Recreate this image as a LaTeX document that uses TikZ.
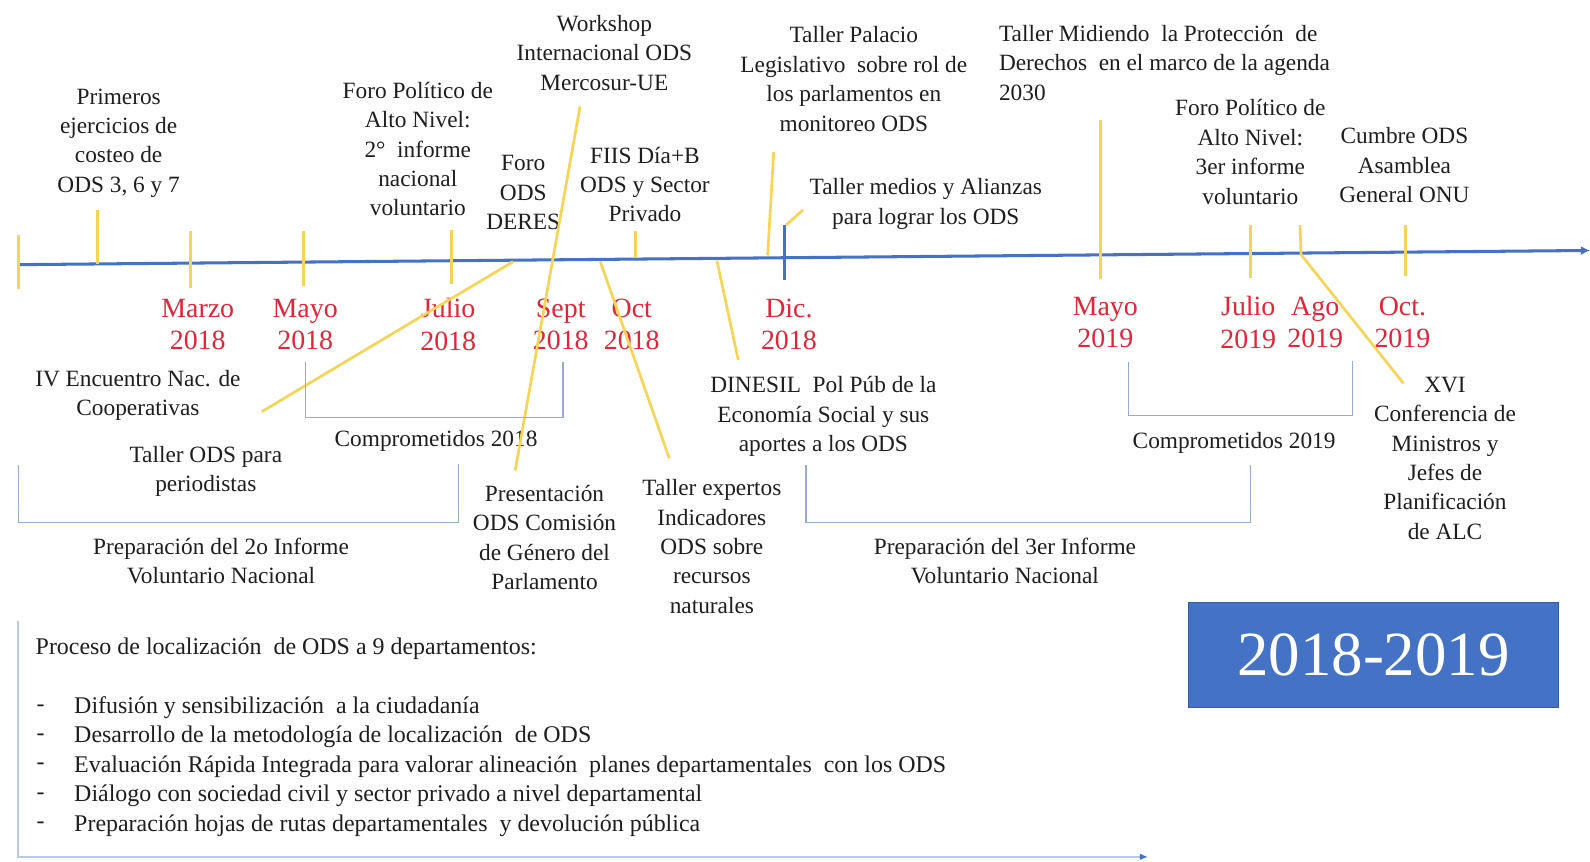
\documentclass[tikz,border=0pt]{standalone}
\usepackage{fontspec}
\setmainfont{Liberation Serif}
\usetikzlibrary{arrows.meta}
\definecolor{tlblue}{RGB}{68,114,196}
\definecolor{tyel}{RGB}{248,212,84}
\definecolor{mred}{RGB}{224,38,56}
\definecolor{brkc}{RGB}{150,172,215}
\definecolor{framec}{RGB}{185,202,232}
\definecolor{txt}{RGB}{30,30,30}
\tikzset{
 lbl/.style={align=center, font=\fontsize{23}{29}\selectfont, text=txt, inner sep=0pt},
 mon/.style={align=center, font=\fontsize{27.5}{32}\selectfont, text=mred, inner sep=0pt},
 bul/.style={anchor=west, font=\fontsize{23.6}{29}\selectfont, text=txt, inner sep=0pt},
 ytick/.style={draw=tyel, line width=2.6pt},
 brkline/.style={draw=brkc, line width=1.4pt},
}
\begin{document}
\begin{tikzpicture}[x=1pt,y=-1pt]
\useasboundingbox[fill=white] (0,0) rectangle (1568,850);

% ---------- upper labels ----------
\node[lbl] (prim) at (117,141) {Primeros\\ejercicios de\\costeo de\\ODS 3, 6 y 7};
\node[lbl] (foro1) at (412,147) {Foro Político de\\Alto Nivel:\\2°\ \ informe\\nacional\\voluntario};
\node[lbl] (deres) at (516,190) {Foro\\ODS\\DERES};
\node[lbl] (work) at (596,52) {Workshop\\Internacional ODS\\Mercosur-UE};
\node[lbl] (fiis) at (636,182) {FIIS Día+B\\ODS y Sector\\Privado};
\node[lbl] (palacio) at (842,78) {Taller Palacio\\Legislativo\ \ sobre rol de\\los parlamentos en\\monitoreo ODS};
\node[lbl] (medios) at (913,201) {Taller medios y Alianzas\\para lograr los ODS};
\node[lbl, align=left, anchor=west] (midiendo) at (985,62) {Taller Midiendo\ \ la Protección\ \ de\\Derechos\ \ en el marco de la agenda\\2030};
\node[lbl] (foro2) at (1233,150) {Foro Político de\\Alto Nivel:\\3er informe\\voluntario};
\node[lbl] (cumbre) at (1385,163) {Cumbre ODS\\Asamblea\\General ONU};

% ---------- lower labels ----------
\node[lbl] (ivenc) at (136,390) {IV Encuentro Nac. de\\Cooperativas};
\node[lbl] (period) at (203,465) {Taller ODS para\\periodistas};
\node[lbl] (comp18) at (430,435) {Comprometidos 2018};
\node[lbl] (prep2) at (218,553) {Preparación del 2o Informe\\Voluntario Nacional};
\node[lbl] (present) at (537,530) {Presentación\\ODS Comisión\\de Género del\\Parlamento};
\node[lbl] (expertos) at (702,539) {Taller expertos\\Indicadores\\ODS sobre\\recursos\\naturales};
\node[lbl] (dinesil) at (812,411) {DINESIL\ \ Pol Púb de la\\Economía Social y sus\\aportes a los ODS};
\node[lbl] (prep3) at (991,553) {Preparación del 3er Informe\\Voluntario Nacional};
\node[lbl] (comp19) at (1217,437) {Comprometidos 2019};
\node[lbl] (xvi) at (1425,452) {XVI\\Conferencia de\\Ministros y\\Jefes de\\Planificación\\de ALC};

% ---------- months ----------
\node[mon] (m1) at (195,320) {Marzo\\2018};
\node[mon] (m2) at (301,320) {Mayo\\2018};
\node[mon] (m3) at (442,320) {Julio\\2018};
\node[mon] (m4) at (553,320) {Sept\\2018};
\node[mon] (m5) at (623,320) {Oct\\2018};
\node[mon] (m6) at (778,320) {Dic.\\2018};
\node[mon] (m7) at (1090,318) {Mayo\\2019};
\node[mon] (m8) at (1231,318) {Julio\\2019};
\node[mon] (m9) at (1297,318) {Ago\\2019};
\node[mon] (m10) at (1383,318) {Oct.\\2019};

% ---------- timeline ----------
\coordinate (tl0) at (18,261);
\coordinate (tl1) at (1568,247);
\draw[tlblue, line width=3pt, -{Latex[length=9pt,width=9pt]}] (tl0) -- (tl1);

% ---------- yellow ticks / leaders ----------
\coordinate (a1) at (18,232);   \coordinate (b1) at (18,285);
\coordinate (a2) at (96,207);   \coordinate (b2) at (96,260);
\coordinate (a3) at (188,228);  \coordinate (b3) at (188,284);
\coordinate (a4) at (299,228);  \coordinate (b4) at (299,282);
\coordinate (a5) at (445,227);  \coordinate (b5) at (445,280);
\coordinate (a6) at (506,258);  \coordinate (b6) at (258,406);
\coordinate (a7) at (572,105);  \coordinate (b7) at (508,464);
\coordinate (a8) at (627,228);  \coordinate (b8) at (627,253);
\coordinate (a9) at (592,258);  \coordinate (b9) at (660,452);
\coordinate (a10) at (707,257); \coordinate (b10) at (728,355);
\coordinate (a11) at (763,150); \coordinate (b11) at (757,252);
\coordinate (a12) at (775,222); \coordinate (b12) at (792,207);
\coordinate (a13) at (1085,118); \coordinate (b13) at (1085,275);
\coordinate (a14) at (1233,222); \coordinate (b14) at (1233,274);
\coordinate (a15) at (1282,222); \coordinate (c15) at (1283,251); \coordinate (b15) at (1384,378);
\coordinate (a16) at (1386,222); \coordinate (b16) at (1386,272);
\foreach \i in {1,...,14,16} {\draw[ytick] (a\i) -- (b\i);}
\draw[ytick] (a15) -- (c15) -- (b15);

% blue tick at Dic.
\coordinate (dt0) at (774,222); \coordinate (dt1) at (774,276);
\draw[tlblue, line width=3pt] (dt0) -- (dt1);

% ---------- brackets ----------
\coordinate (k1a) at (301,357); \coordinate (k1b) at (301,412); \coordinate (k1c) at (555,412); \coordinate (k1d) at (555,357);
\coordinate (k2a) at (18,459);  \coordinate (k2b) at (18,515);  \coordinate (k2c) at (452,515); \coordinate (k2d) at (452,458);
\coordinate (k3a) at (795,459); \coordinate (k3b) at (795,515); \coordinate (k3c) at (1233,515); \coordinate (k3d) at (1233,459);
\coordinate (k4a) at (1113,357); \coordinate (k4b) at (1113,410); \coordinate (k4c) at (1334,410); \coordinate (k4d) at (1334,356);
\foreach \i in {1,2,3,4} {\draw[brkline] (k\i a) -- (k\i b) -- (k\i c) -- (k\i d);}

% ---------- bottom process frame ----------
\coordinate (f0) at (18,612); \coordinate (f1) at (18,845); \coordinate (f2) at (1132,845);
\draw[draw=framec, line width=2pt, -{Latex[length=8pt,width=7pt,color=tlblue]}] (f0) -- (f1) -- (f2);
\node[bul] (proc) at (35,640) {Proceso de localización\ \ de ODS a 9 departamentos:};
\foreach \y/\t [count=\k] in {698/{Difusión y sensibilización\ \ a la ciudadanía},
  727/{Desarrollo de la metodología de localización\ \ de ODS},
  756/{Evaluación Rápida Integrada para valorar alineación\ \ planes departamentales\ \ con los ODS},
  785/{Diálogo con sociedad civil y sector privado a nivel departamental},
  814/{Preparación hojas de rutas departamentales\ \ y devolución pública}} {
  \node[bul] (dash\k) at (36,\y) {-};
  \node[bul] (item\k) at (73,\y) {\t};
}

% ---------- year box ----------
\node[fill=tlblue, draw=tlblue!80!black, line width=0.6pt, minimum width=365pt, minimum height=104pt, inner sep=0pt,
  text=white, font=\fontsize{62}{62}\selectfont] (years) at (1354.5,646) {2018-2019};
\end{tikzpicture}
\end{document}
